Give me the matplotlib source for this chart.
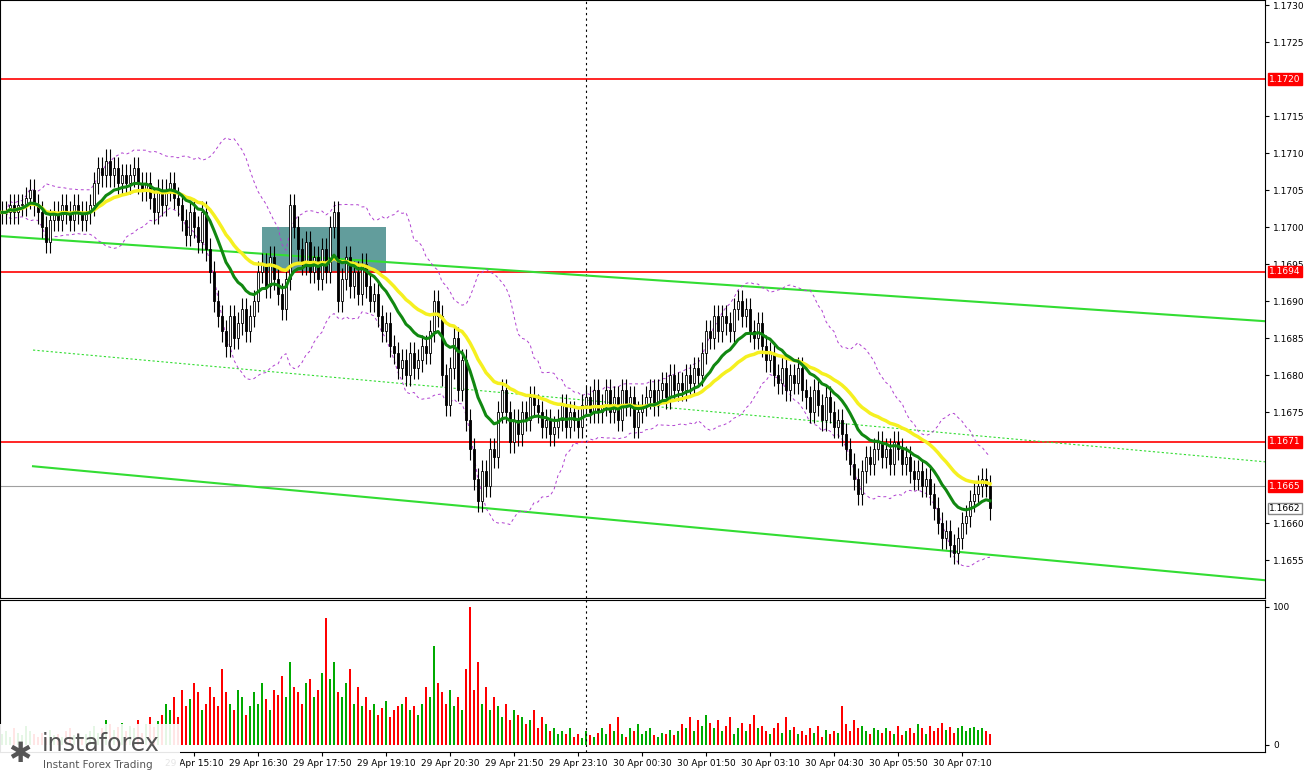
import numpy as np
import pandas as pd
import matplotlib
matplotlib.use("Agg")
import matplotlib.pyplot as plt
from matplotlib.patches import Rectangle

# 5-minute closes, 29 Apr 11:10 .. 30 Apr 07:45
closes = [
1.1702,1.1702,1.1703,1.1702,1.1703,1.1703,1.1704,1.1705,1.1703,1.1702,
1.1700,1.1698,1.1701,1.1702,1.1701,1.1703,1.1702,1.1701,1.1703,1.1702,
1.1701,1.1702,1.1703,1.1706,1.1708,1.1707,1.1709,1.1707,1.1708,1.1706,
1.1707,1.1706,1.1707,1.1708,1.1706,1.1705,1.1706,1.1704,1.1702,1.1705,
1.1703,1.1705,1.1706,1.1704,1.1703,1.1701,1.1699,1.1702,1.1700,1.1698,
1.1702,1.1697,1.1694,1.1690,1.1688,1.1686,1.1684,1.1688,1.1685,1.1687,
1.1689,1.1686,1.1688,1.1690,1.1694,1.1695,1.1692,1.1696,1.1693,1.1691,
1.1689,1.1693,1.1703,1.1700,1.1697,1.1695,1.1698,1.1694,1.1696,1.1693,
1.1697,1.1694,1.1700,1.1702,1.1690,1.1693,1.1696,1.1692,1.1694,1.1691,
1.1695,1.1692,1.1690,1.1691,1.1688,1.1686,1.1687,1.1684,1.1683,1.1681,
1.1682,1.1680,1.1683,1.1681,1.1682,1.1684,1.1683,1.1686,1.1690,1.1688,
1.1680,1.1676,1.1681,1.1685,1.1678,1.1682,1.1674,1.1670,1.1666,1.1663,
1.1667,1.1665,1.1670,1.1669,1.1675,1.1678,1.1675,1.1671,1.1674,1.1672,
1.1675,1.1674,1.1677,1.1676,1.1675,1.1673,1.1674,1.1672,1.1673,1.1674,
1.1676,1.1673,1.1675,1.1674,1.1673,1.1676,1.1677,1.1675,1.1678,1.1675,
1.1676,1.1678,1.1675,1.1677,1.1674,1.1678,1.1676,1.1677,1.1673,1.1675,
1.1676,1.1677,1.1678,1.1676,1.1678,1.1679,1.1677,1.1680,1.1678,1.1679,
1.1678,1.1680,1.1679,1.1681,1.1680,1.1683,1.1686,1.1685,1.1688,1.1686,
1.1688,1.1687,1.1686,1.1689,1.1690,1.1688,1.1689,1.1686,1.1685,1.1687,
1.1684,1.1682,1.1683,1.1680,1.1679,1.1681,1.1678,1.1680,1.1679,1.1681,
1.1678,1.1677,1.1675,1.1678,1.1676,1.1674,1.1677,1.1675,1.1673,1.1674,
1.1672,1.1670,1.1668,1.1666,1.1664,1.1667,1.1669,1.1668,1.1670,1.1671,
1.1669,1.1670,1.1668,1.1671,1.1670,1.1668,1.1669,1.1667,1.1666,1.1667,
1.1665,1.1666,1.1664,1.1662,1.1660,1.1658,1.1659,1.1657,1.1656,1.1658,
1.1660,1.1661,1.1663,1.1664,1.1665,1.1666,1.1665,1.1662]

volumes = [
8,10,6,12,9,7,14,10,8,6, 9,5,11,7,8,6,10,12,7,9,
6,8,10,14,9,12,18,15,11,13, 16,10,14,12,18,9,15,20,13,17,
22,30,25,35,20,40,28,33,45,38, 25,30,42,35,28,55,38,30,25,40,
35,22,28,38,30,45,33,25,40,36, 50,35,60,42,38,30,45,48,35,40,
52,92,48,60,38,35,45,55,30,42, 28,35,25,30,22,27,32,20,25,28,
30,35,25,28,22,30,42,35,72,45, 38,30,40,28,35,25,55,100,40,60,
30,42,25,35,28,20,30,18,25,22, 20,15,18,25,12,20,15,10,12,8,
10,8,12,6,8,5,10,7,6,9, 12,8,15,10,20,8,6,12,10,15,
8,10,12,7,6,9,8,11,7,10, 15,12,20,10,18,14,22,16,12,18,
10,14,20,8,12,16,10,15,22,12, 14,10,8,12,16,9,20,11,13,8,
10,7,12,9,14,6,11,8,10,9, 28,15,10,18,12,14,10,8,12,11,
9,12,10,8,14,7,10,12,9,15, 12,8,14,10,12,16,11,13,9,12,
14,10,12,13,11,12,10,8]

tick_bars = [48, 64, 80, 96, 112, 128, 144, 160, 176, 192, 208, 224, 240]
tick_labels = ["29 Apr 15:10", "29 Apr 16:30", "29 Apr 17:50", "29 Apr 19:10",
               "29 Apr 20:30", "29 Apr 21:50", "29 Apr 23:10", "30 Apr 00:30",
               "30 Apr 01:50", "30 Apr 03:10", "30 Apr 04:30", "30 Apr 05:50",
               "30 Apr 07:10"]
price_ticks = [1.1730, 1.1725, 1.1715, 1.1710, 1.1705, 1.1700, 1.1695, 1.1690,
               1.1685, 1.1680, 1.1675, 1.1660, 1.1655]
levels = [1.1720, 1.1694, 1.1671]
last_price = 1.1665
bid_price = 1.1662
# trend channels: (bar0, price0, bar1, price1)
upper_line = (-0.5, 1.16988, 315.75, 1.16873)
lower_line = (7.75, 1.16677, 315.75, 1.16523)
mid_line = (7.75, 1.16834, 315.75, 1.16683)
box = (65, 96, 1.16938, 1.1700)

c = pd.Series(closes)
o = c.shift(1).fillna(c.iloc[0])
n = len(c)
idx = np.arange(n)
fast = c.ewm(span=16).mean()
slow = c.ewm(span=34).mean()
bb_mid = c.rolling(20, min_periods=2).mean()
bb_sd = c.rolling(20, min_periods=2).std()

fig = plt.figure(figsize=(13.08, 7.74), dpi=100)
ax = fig.add_axes([0, 0.2274, 1265/1308, 0.7726])
axv = fig.add_axes([0, 22/774, 1265/1308, 152/774])

ax.set_xlim(-0.5, 315.75)
ax.set_ylim(1.16499, 1.17307)
axv.set_xlim(-0.5, 315.75)
axv.set_ylim(-5.1, 105)

for a in (ax, axv):
    a.yaxis.tick_right()
    a.tick_params(axis='y', labelsize=6.5, length=3, pad=3)
    for s in a.spines.values():
        s.set_linewidth(0.8)

ax.set_yticks(price_ticks)
ax.yaxis.set_major_formatter(plt.FuncFormatter(lambda v, p: f"{v:.4f}"))
ax.set_xticks([])
axv.set_yticks([0, 100])
axv.set_xticks(tick_bars)
axv.set_xticklabels(tick_labels, fontsize=6.5)
axv.tick_params(axis='x', length=3, pad=2)

# teal box
ax.add_patch(Rectangle((box[0], box[2]), box[1] - box[0], box[3] - box[2],
                       color='#2e7d7b', alpha=0.75, zorder=1, lw=0))

for lv in levels:
    ax.axhline(lv, color='#ff0000', lw=1.2, zorder=2)
ax.axhline(last_price, color='#a0a0a0', lw=0.8, zorder=2)
ax.axvline(146, color='black', lw=0.8, ls=(0, (2, 3)), zorder=2)
axv.axvline(146, color='black', lw=0.8, ls=(0, (2, 3)))

ax.plot(upper_line[::2], upper_line[1::2], color='#33dd33', lw=1.5, zorder=2)
ax.plot(lower_line[::2], lower_line[1::2], color='#33dd33', lw=1.5, zorder=2)
ax.plot(mid_line[::2], mid_line[1::2], color='#33dd33', lw=0.8, ls=(0, (2, 2)), zorder=2)

ax.plot(idx, bb_mid + 2 * bb_sd, color='#b040d0', lw=0.7, ls=(0, (3, 3)), zorder=3)
ax.plot(idx, bb_mid - 2 * bb_sd, color='#b040d0', lw=0.7, ls=(0, (3, 3)), zorder=3)

# candles
for i in range(n):
    lo, hi = min(o[i], c[i]), max(o[i], c[i])
    ax.vlines(i, lo - 0.00015, hi + 0.00015, color='black', lw=0.8, zorder=4)
    fc = 'white' if c[i] >= o[i] else 'black'
    ax.add_patch(Rectangle((i - 0.35, lo), 0.7, max(hi - lo, 0.00002),
                           facecolor=fc, edgecolor='black', lw=0.6, zorder=5))

ax.plot(idx, slow, color='#f5f020', lw=2.5, zorder=6)
ax.plot(idx, fast, color='#118811', lw=2.2, zorder=7)

# price labels
for lv in levels + [last_price]:
    ax.annotate(f"{lv:.4f}", xy=(1.0, lv), xycoords=('axes fraction', 'data'),
                xytext=(3, 0), textcoords='offset points', fontsize=6.5, color='white',
                va='center', ha='left',
                bbox=dict(boxstyle='square,pad=0.15', fc='#ff0000', ec='#ff0000'),
                annotation_clip=False, zorder=10)
ax.annotate(f"{bid_price:.4f}", xy=(1.0, bid_price), xycoords=('axes fraction', 'data'),
            xytext=(3, 0), textcoords='offset points', fontsize=6.5, color='black',
            va='center', ha='left',
            bbox=dict(boxstyle='square,pad=0.15', fc='white', ec='#888888'),
            annotation_clip=False, zorder=10)

# volumes
vcol = ['#00aa00' if c[i] >= o[i] else '#ff0000' for i in range(n)]
axv.bar(idx, volumes, width=0.6, color=vcol)

# logo
fig.patches.append(Rectangle((0, 0), 180 / 1308, 50 / 774, transform=fig.transFigure,
                             fc='white', ec='none', alpha=0.9))
fig.text(0.032, 0.030, "instaforex", fontsize=17, color='#555555')
fig.text(0.033, 0.008, "Instant Forex Trading", fontsize=7.5, color='#555555')
fig.text(0.006, 0.015, "✱", fontsize=20, color='#555555')

fig.savefig("out.png", dpi=100)
